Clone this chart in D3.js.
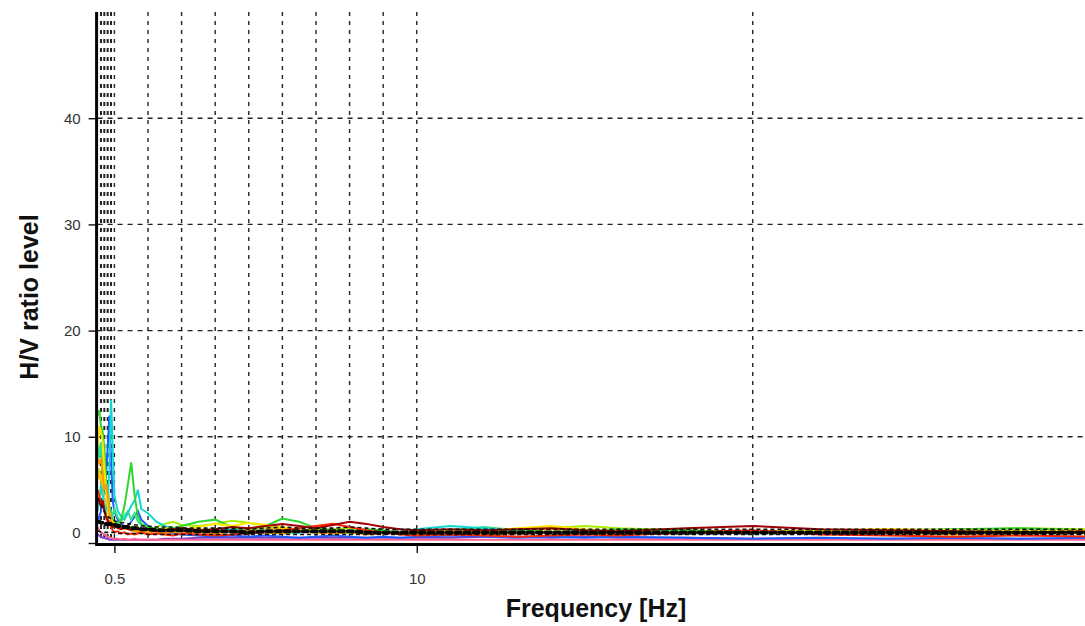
<!DOCTYPE html>
<html>
<head>
<meta charset="utf-8">
<script src="https://cdn.jsdelivr.net/npm/d3@7"></script>
<style>
  body { margin: 0; background: #fff; }
  svg { display: block; }
</style>
</head>
<body>
<div id="chart"></div>
<script>
// Set svg dimensions
var svgWidth = 1085;
var svgHeight = 626;

// Frequency samples (Hz) shared by all curves
var freq = [0.5, 0.55, 0.6, 0.65, 0.7, 0.75, 0.8, 0.85, 0.9, 0.95, 1.0,
  1.1, 1.2, 1.3, 1.4, 1.5, 1.6, 1.7, 1.8,
  2.0, 2.25, 2.5, 2.75, 3, 3.5, 4, 4.5, 5, 5.5, 6, 6.5, 7, 7.5, 8, 8.5, 9, 9.5, 10,
  11, 12, 13, 14, 15, 16, 18, 20, 22, 24, 26, 28, 30];

// H/V ratio of each window
var hvGreen = [12.0, 12.5, 11.0, 10.5, 9.0, 6.0, 4.0, 3.0, 2.5, 2.2, 2.0, 1.8, 2.2, 3.5, 5.5, 7.6, 4.5, 2.5, 1.8, 1.5, 1.3, 1.2, 1.4, 1.6, 2.0, 2.2, 1.5, 1.3, 1.6, 2.3, 2.0, 1.4, 1.2, 1.1, 1.3, 1.2, 1.0, 0.9, 1.0, 1.1, 1.2, 1.0, 1.1, 1.3, 1.2, 1.0, 1.1, 1.2, 1.3, 1.4, 1.2];
var hvYellow = [9.0, 11.0, 10.5, 9.5, 7.0, 5.0, 3.5, 2.8, 2.2, 2.0, 1.8, 1.6, 1.5, 1.4, 1.3, 1.4, 1.5, 1.3, 1.2, 1.1, 1.2, 1.4, 1.3, 1.2, 1.5, 1.8, 1.6, 1.9, 1.7, 1.5, 1.2, 1.1, 1.0, 1.0, 1.1, 1.0, 1.0, 1.1, 1.2, 1.1, 1.4, 1.6, 1.3, 1.1, 1.0, 1.0, 1.1, 1.3, 1.2, 1.1, 1.2];
var hvOrange = [8.0, 7.5, 8.0, 6.5, 5.0, 5.5, 4.5, 3.0, 2.0, 1.8, 1.6, 1.5, 1.4, 1.3, 1.5, 1.2, 1.1, 1.0, 1.2, 1.0, 1.1, 0.9, 1.0, 1.1, 1.0, 0.9, 1.1, 1.2, 1.0, 0.9, 1.1, 1.0, 0.9, 1.0, 0.8, 0.9, 1.0, 0.9, 1.0, 0.8, 0.9, 1.0, 0.9, 0.8, 0.9, 1.0, 0.9, 1.0, 0.8, 0.9, 1.0];
var hvCyan = [3.0, 4.0, 5.5, 4.5, 3.5, 3.0, 4.0, 7.0, 13.5, 9.0, 4.5, 3.0, 2.5, 2.2, 2.8, 3.5, 4.0, 5.0, 3.2, 2.8, 2.0, 1.6, 1.3, 1.2, 1.1, 1.0, 1.3, 1.2, 1.0, 0.9, 1.0, 1.1, 1.0, 0.9, 1.0, 1.1, 1.0, 1.3, 1.6, 1.4, 1.1, 1.0, 1.2, 1.0, 1.1, 0.9, 1.0, 1.1, 1.0, 0.9, 1.0];
var hvBlue = [2.0, 2.5, 3.0, 4.0, 5.0, 6.5, 9.0, 12.0, 8.0, 4.0, 3.0, 2.2, 1.8, 1.5, 1.6, 2.0, 2.5, 3.0, 2.2, 1.6, 1.2, 1.0, 0.9, 0.8, 0.7, 0.6, 0.7, 0.6, 0.7, 0.6, 0.5, 0.6, 0.7, 0.6, 0.5, 0.6, 0.5, 0.6, 0.7, 0.6, 0.5, 0.6, 0.5, 0.6, 0.5, 0.4, 0.5, 0.4, 0.5, 0.4, 0.5];
var hvRed = [5.0, 4.5, 3.5, 4.0, 3.0, 2.5, 2.0, 1.8, 1.5, 1.2, 1.0, 1.1, 0.9, 1.0, 0.8, 0.9, 0.8, 0.9, 1.0, 0.8, 0.9, 0.8, 0.7, 0.9, 0.8, 0.7, 0.8, 0.9, 1.0, 1.2, 1.4, 1.6, 1.8, 1.5, 1.2, 1.0, 0.8, 0.7, 0.8, 0.7, 0.6, 0.7, 0.8, 0.7, 1.0, 1.2, 0.8, 0.7, 0.6, 0.7, 0.6];
var hvDarkRed = [4.3, 3.8, 3.5, 4.0, 3.0, 2.5, 2.2, 1.9, 1.7, 1.5, 1.6, 1.4, 1.3, 1.5, 1.3, 1.2, 1.4, 1.3, 1.2, 1.3, 1.1, 1.2, 1.3, 1.4, 1.2, 1.3, 1.5, 1.4, 1.6, 1.8, 1.6, 1.4, 1.7, 2.0, 1.8, 1.5, 1.3, 1.2, 1.3, 1.2, 1.3, 1.4, 1.2, 1.1, 1.4, 1.6, 1.3, 1.2, 1.1, 1.0, 1.1];
var hvLime = [6.0, 7.0, 6.0, 4.5, 3.5, 2.8, 2.2, 2.0, 1.8, 1.7, 1.6, 1.5, 1.6, 1.4, 1.3, 1.5, 1.6, 1.4, 1.3, 1.2, 1.5, 1.8, 2.0, 1.7, 1.6, 1.8, 2.1, 1.9, 1.6, 1.4, 1.3, 1.2, 1.3, 1.4, 1.2, 1.1, 1.0, 1.0, 1.1, 1.2, 1.3, 1.4, 1.6, 1.4, 1.2, 1.0, 1.1, 1.0, 1.2, 1.4, 1.3];
var hvTeal = [10.0, 8.0, 9.5, 7.0, 6.0, 4.5, 5.5, 3.5, 3.0, 2.6, 3.2, 2.4, 2.0, 2.6, 3.0, 2.2, 2.8, 2.0, 1.7, 1.5, 1.3, 1.4, 1.2, 1.1, 1.2, 1.1, 1.0, 1.1, 1.2, 1.0, 1.1, 1.0, 0.9, 1.0, 1.1, 1.0, 0.9, 1.0, 1.2, 1.5, 1.2, 1.0, 1.1, 1.0, 0.9, 1.0, 1.0, 0.9, 1.0, 1.1, 1.0];
var hvAmber = [7.0, 6.0, 6.5, 5.0, 4.0, 3.5, 3.0, 2.6, 2.4, 2.0, 1.9, 1.7, 1.6, 1.5, 1.6, 1.4, 1.3, 1.2, 1.3, 1.2, 1.3, 1.2, 1.1, 1.2, 1.3, 1.2, 1.1, 1.3, 1.4, 1.3, 1.2, 1.1, 1.2, 1.1, 1.0, 1.1, 1.0, 1.0, 1.1, 1.0, 1.1, 1.3, 1.2, 1.1, 1.0, 1.1, 1.2, 1.3, 1.1, 1.2, 1.1];
var hvPink = [1.5, 1.2, 1.0, 0.9, 0.8, 0.7, 0.6, 0.5, 0.5, 0.4, 0.4, 0.4, 0.3, 0.4, 0.3, 0.3, 0.4, 0.3, 0.3, 0.3, 0.3, 0.3, 0.3, 0.3, 0.3, 0.3, 0.3, 0.3, 0.3, 0.3, 0.3, 0.3, 0.3, 0.3, 0.3, 0.3, 0.3, 0.3, 0.3, 0.3, 0.3, 0.3, 0.3, 0.3, 0.3, 0.3, 0.3, 0.3, 0.3, 0.3, 0.3];
var hvPurple = [0.8, 0.7, 0.6, 0.5, 0.5, 0.4, 0.4, 0.3, 0.3, 0.3, 0.3, 0.3, 0.3, 0.3, 0.3, 0.3, 0.3, 0.3, 0.3, 0.3, 0.3, 0.4, 0.4, 0.4, 0.5, 0.5, 0.5, 0.5, 0.5, 0.5, 0.5, 0.5, 0.5, 0.5, 0.5, 0.5, 0.5, 0.5, 0.5, 0.6, 0.6, 0.5, 0.6, 0.5, 0.5, 0.4, 0.4, 0.4, 0.4, 0.4, 0.4];

// average H/V and its +/- standard deviation
var hvMean = [2.0, 2.0, 1.9, 1.9, 1.9, 1.8, 1.8, 1.8, 1.8, 1.7, 1.7, 1.6, 1.6, 1.5, 1.5, 1.4, 1.4, 1.4, 1.3, 1.3, 1.2, 1.2, 1.2, 1.2, 1.1, 1.1, 1.1, 1.0, 1.1, 1.1, 1.1, 1.1, 1.1, 1.1, 1.0, 1.0, 1.0, 1.0, 1.0, 1.0, 1.0, 1.0, 1.0, 1.0, 1.0, 1.0, 1.0, 1.0, 1.0, 1.0, 1.0];
var hvUpper = [4.2, 4.0, 3.6, 3.4, 3.0, 2.7, 2.5, 2.4, 2.3, 2.2, 2.1, 2.0, 1.9, 1.9, 1.8, 1.8, 1.7, 1.7, 1.6, 1.6, 1.5, 1.5, 1.5, 1.4, 1.4, 1.4, 1.4, 1.3, 1.4, 1.5, 1.4, 1.4, 1.4, 1.5, 1.4, 1.3, 1.3, 1.3, 1.3, 1.3, 1.3, 1.3, 1.3, 1.3, 1.3, 1.3, 1.3, 1.3, 1.3, 1.3, 1.3];
var hvLower = [1.1, 1.1, 1.0, 1.0, 1.0, 1.0, 1.0, 1.0, 1.0, 1.0, 1.0, 0.9, 0.9, 0.9, 0.9, 0.9, 0.9, 0.9, 0.9, 0.8, 0.8, 0.8, 0.8, 0.8, 0.8, 0.8, 0.8, 0.8, 0.8, 0.8, 0.8, 0.8, 0.8, 0.8, 0.8, 0.8, 0.8, 0.8, 0.8, 0.8, 0.8, 0.8, 0.8, 0.8, 0.8, 0.8, 0.8, 0.8, 0.8, 0.8, 0.8];

var windowSeries = [
  { name: "purple", color: "#7a3fd0", values: hvPurple },
  { name: "pink", color: "#ff5f8a", values: hvPink },
  { name: "blue", color: "#1f5cff", values: hvBlue },
  { name: "lime", color: "#a6f000", values: hvLime },
  { name: "amber", color: "#ffc400", values: hvAmber },
  { name: "teal", color: "#35e08a", values: hvTeal },
  { name: "cyan", color: "#10d8d0", values: hvCyan },
  { name: "green", color: "#2fd62f", values: hvGreen },
  { name: "yellow", color: "#ffe600", values: hvYellow },
  { name: "orange", color: "#ff9a00", values: hvOrange },
  { name: "red", color: "#ff2a00", values: hvRed },
  { name: "darkred", color: "#a00000", values: hvDarkRed }
];

// grid and ticks
var xGridValues = [0.6, 0.7, 0.8, 0.9, 1, 2, 3, 4, 5, 6, 7, 8, 9, 10, 20];
var yGridValues = [10, 20, 30, 40];
var xTickValues = [1, 10];
var xTickLabels = ["0.5", "10"];
var yTickValues = [0, 10, 20, 30, 40];

var plot = { left: 97.6, right: 1085, top: 12, bottom: 543 };

var svg = d3.select("#chart")
  .append("svg")
  .attr("width", svgWidth)
  .attr("height", svgHeight);

var xScale = d3.scaleLinear()
  .domain([0.5, 29.89])
  .range([plot.left, plot.right]);

var yScale = d3.scaleLinear()
  .domain([0, 50])
  .range([plot.bottom, plot.top]);

// Grid lines
svg.append("g")
  .selectAll("line")
  .data(xGridValues)
  .enter()
  .append("line")
  .attr("x1", d => xScale(d))
  .attr("x2", d => xScale(d))
  .attr("y1", plot.top)
  .attr("y2", plot.bottom)
  .attr("stroke", "#222")
  .attr("stroke-width", d => d < 1 ? 2 : 1.4)
  .attr("stroke-dasharray", "4,5");

svg.append("g")
  .selectAll("line")
  .data(yGridValues)
  .enter()
  .append("line")
  .attr("x1", plot.left)
  .attr("x2", plot.right)
  .attr("y1", d => yScale(d))
  .attr("y2", d => yScale(d))
  .attr("stroke", "#222")
  .attr("stroke-width", 1.4)
  .attr("stroke-dasharray", "5,5");

// curves
var line = d3.line()
  .x((d, i) => xScale(freq[i]))
  .y(d => yScale(d));

svg.append("g")
  .selectAll("path")
  .data(windowSeries)
  .enter()
  .append("path")
  .attr("d", d => line(d.values))
  .attr("fill", "none")
  .attr("stroke", d => d.color)
  .attr("stroke-width", 2);

svg.append("path")
  .attr("d", line(hvUpper))
  .attr("fill", "none")
  .attr("stroke", "#111")
  .attr("stroke-width", 1.6)
  .attr("stroke-dasharray", "4,3");

svg.append("path")
  .attr("d", line(hvLower))
  .attr("fill", "none")
  .attr("stroke", "#111")
  .attr("stroke-width", 1.6)
  .attr("stroke-dasharray", "4,3");

svg.append("path")
  .attr("d", line(hvMean))
  .attr("fill", "none")
  .attr("stroke", "#000")
  .attr("stroke-width", 4)
  .attr("stroke-linecap", "round")
  .attr("stroke-dasharray", "5,4");

// Axes
var bottomAxis = d3.axisBottom(xScale)
  .tickValues(xTickValues)
  .tickFormat((d, i) => xTickLabels[i])
  .tickSize(10)
  .tickSizeOuter(0);

var leftAxis = d3.axisLeft(yScale)
  .tickValues(yTickValues)
  .tickSize(9)
  .tickSizeOuter(0);

var xAxisG = svg.append("g")
  .attr("transform", `translate(0, ${plot.bottom})`)
  .call(bottomAxis);
xAxisG.select(".domain").remove();
xAxisG.selectAll(".tick line").attr("stroke", "#111").attr("stroke-width", 1.4);
xAxisG.selectAll(".tick text")
  .attr("y", 30)
  .attr("font-family", "Liberation Sans, Arial, sans-serif")
  .attr("font-size", "15px")
  .attr("fill", "#333");

var yAxisG = svg.append("g")
  .attr("transform", `translate(${plot.left}, 0)`)
  .call(leftAxis);
yAxisG.select(".domain").remove();
yAxisG.selectAll(".tick line").attr("stroke", "#111").attr("stroke-width", 1.4);
yAxisG.selectAll(".tick text")
  .attr("x", -17)
  .attr("dy", d => d === 0 ? "-0.35em" : "0.32em")
  .attr("font-family", "Liberation Sans, Arial, sans-serif")
  .attr("font-size", "15px")
  .attr("fill", "#333");

// axis lines (thick black)
svg.append("line")
  .attr("x1", plot.left - 1)
  .attr("x2", plot.right)
  .attr("y1", plot.bottom + 1.5)
  .attr("y2", plot.bottom + 1.5)
  .attr("stroke", "#000")
  .attr("stroke-width", 3);

svg.append("line")
  .attr("x1", plot.left - 1)
  .attr("x2", plot.left - 1)
  .attr("y1", plot.top)
  .attr("y2", plot.bottom + 3)
  .attr("stroke", "#000")
  .attr("stroke-width", 3);

// Axis titles
svg.append("text")
  .attr("x", 596)
  .attr("y", 617)
  .attr("text-anchor", "middle")
  .attr("font-family", "Liberation Sans, Arial, sans-serif")
  .attr("font-weight", "bold")
  .attr("font-size", "25px")
  .attr("fill", "#111")
  .text("Frequency [Hz]");

svg.append("text")
  .attr("transform", "translate(38, 297) rotate(-90)")
  .attr("text-anchor", "middle")
  .attr("font-family", "Liberation Sans, Arial, sans-serif")
  .attr("font-weight", "bold")
  .attr("font-size", "25px")
  .attr("fill", "#111")
  .text("H/V ratio level");
</script>
</body>
</html>
